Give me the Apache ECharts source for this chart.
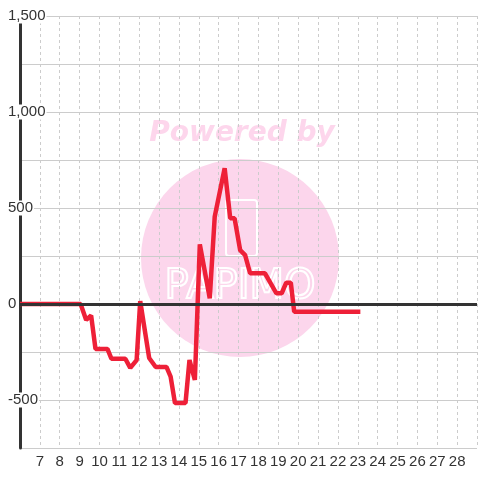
<!DOCTYPE html>
<html>
<head>
<meta charset="utf-8">
<script src="https://cdn.jsdelivr.net/npm/echarts@6/dist/echarts.min.js"></script>
<style>
  html, body { margin: 0; padding: 0; background: #fff; }
  #chart { width: 480px; height: 480px; }
</style>
</head>
<body>
<div id="chart"></div>
<script>
// values
var xs = [6, 9.05, 9.33, 9.58, 9.8, 10.4, 10.6, 11.3, 11.55, 11.87, 12.05, 12.5, 12.83, 13.37, 13.58, 13.8, 14.33, 14.53, 14.8, 15.05, 15.55, 15.8, 16.3, 16.58, 16.8, 17.08, 17.33, 17.58, 18.33, 18.9, 19.17, 19.4, 19.63, 19.8, 23.13]
var ys = [0, 0, -83, -60, -234, -234, -285, -285, -333, -292, 15, -281, -328, -328, -378, -516, -516, -292, -396, 311, 30, 455, 707, 446, 446, 281, 255, 160, 160, 56, 56, 111, 111, -40, -40]
var xTicks = [7, 8, 9, 10, 11, 12, 13, 14, 15, 16, 17, 18, 19, 20, 21, 22, 23, 24, 25, 26, 27, 28]
var yTicks = [-500, 0, 500, 1000, 1500]

initChart()

function initChart() {
    var myChart = echarts.init(document.getElementById('chart'))
    var points = xs.map(function(x, i) { return [x, ys[i]] })

    var option = {
        backgroundColor: '#fff',
        animation: false,
        textStyle: { fontFamily: 'Liberation Sans' },
        grid: { left: 20, right: 0, top: 16, bottom: 32 },
        // watermark
        graphic: [{
            type: 'group',
            z: -1,
            silent: true,
            children: [{
                type: 'circle',
                shape: { cx: 240, cy: 258, r: 99 },
                style: { fill: '#fcd6ec' }
            }, {
                type: 'rect',
                shape: { x: 226, y: 200, width: 31, height: 56, r: 3 },
                style: { fill: 'none', stroke: '#fff', lineWidth: 2 }
            }, {
                type: 'text',
                style: {
                    x: 240, y: 288, text: 'PAPIMO', align: 'center', verticalAlign: 'middle',
                    fill: 'none', stroke: '#fff', lineWidth: 2,
                    font: '40px "DejaVu Sans"'
                }
            }, {
                type: 'text',
                style: {
                    x: 242, y: 134, text: 'Powered by', align: 'center', verticalAlign: 'middle',
                    fill: '#fdd6ec',
                    font: 'italic bold 28px "DejaVu Sans"'
                }
            }]
        }],
        xAxis: {
            type: 'value',
            min: 6,
            max: 29,
            interval: 1,
            axisLine: { show: false },
            axisTick: { show: false },
            axisLabel: {
                color: '#333',
                fontSize: 15,
                margin: 6,
                formatter: function(v) { return xTicks.indexOf(v) >= 0 ? String(v) : '' }
            },
            splitLine: { show: true, lineStyle: { color: '#ccc', type: [3, 3], width: 1 } }
        },
        yAxis: {
            type: 'value',
            min: -750,
            max: 1500,
            interval: 250,
            axisLine: { show: true, lineStyle: { color: '#333', width: 3 } },
            axisTick: { show: false },
            axisLabel: {
                color: '#333',
                fontSize: 15,
                align: 'left',
                margin: 13,
                backgroundColor: '#fff',
                padding: [0, 1],
                formatter: function(v) {
                    return yTicks.indexOf(v) >= 0 ? v.toLocaleString('en-US') : ''
                }
            },
            splitLine: { show: true, lineStyle: { color: '#ccc', width: 1 } }
        },
        series: [{
            type: 'line',
            data: [],
            z: 1,
            markLine: {
                silent: true,
                symbol: 'none',
                label: { show: false },
                lineStyle: { color: '#333', width: 3, type: 'solid' },
                data: [{ yAxis: 0 }]
            }
        }, {
            name: '',
            type: 'line',
            z: 3,
            showSymbol: false,
            lineStyle: { color: '#ee2038', width: 4.5 },
            itemStyle: { color: '#ee2038' },
            data: points
        }]
    }
    myChart.setOption(option)
}
</script>
</body>
</html>
